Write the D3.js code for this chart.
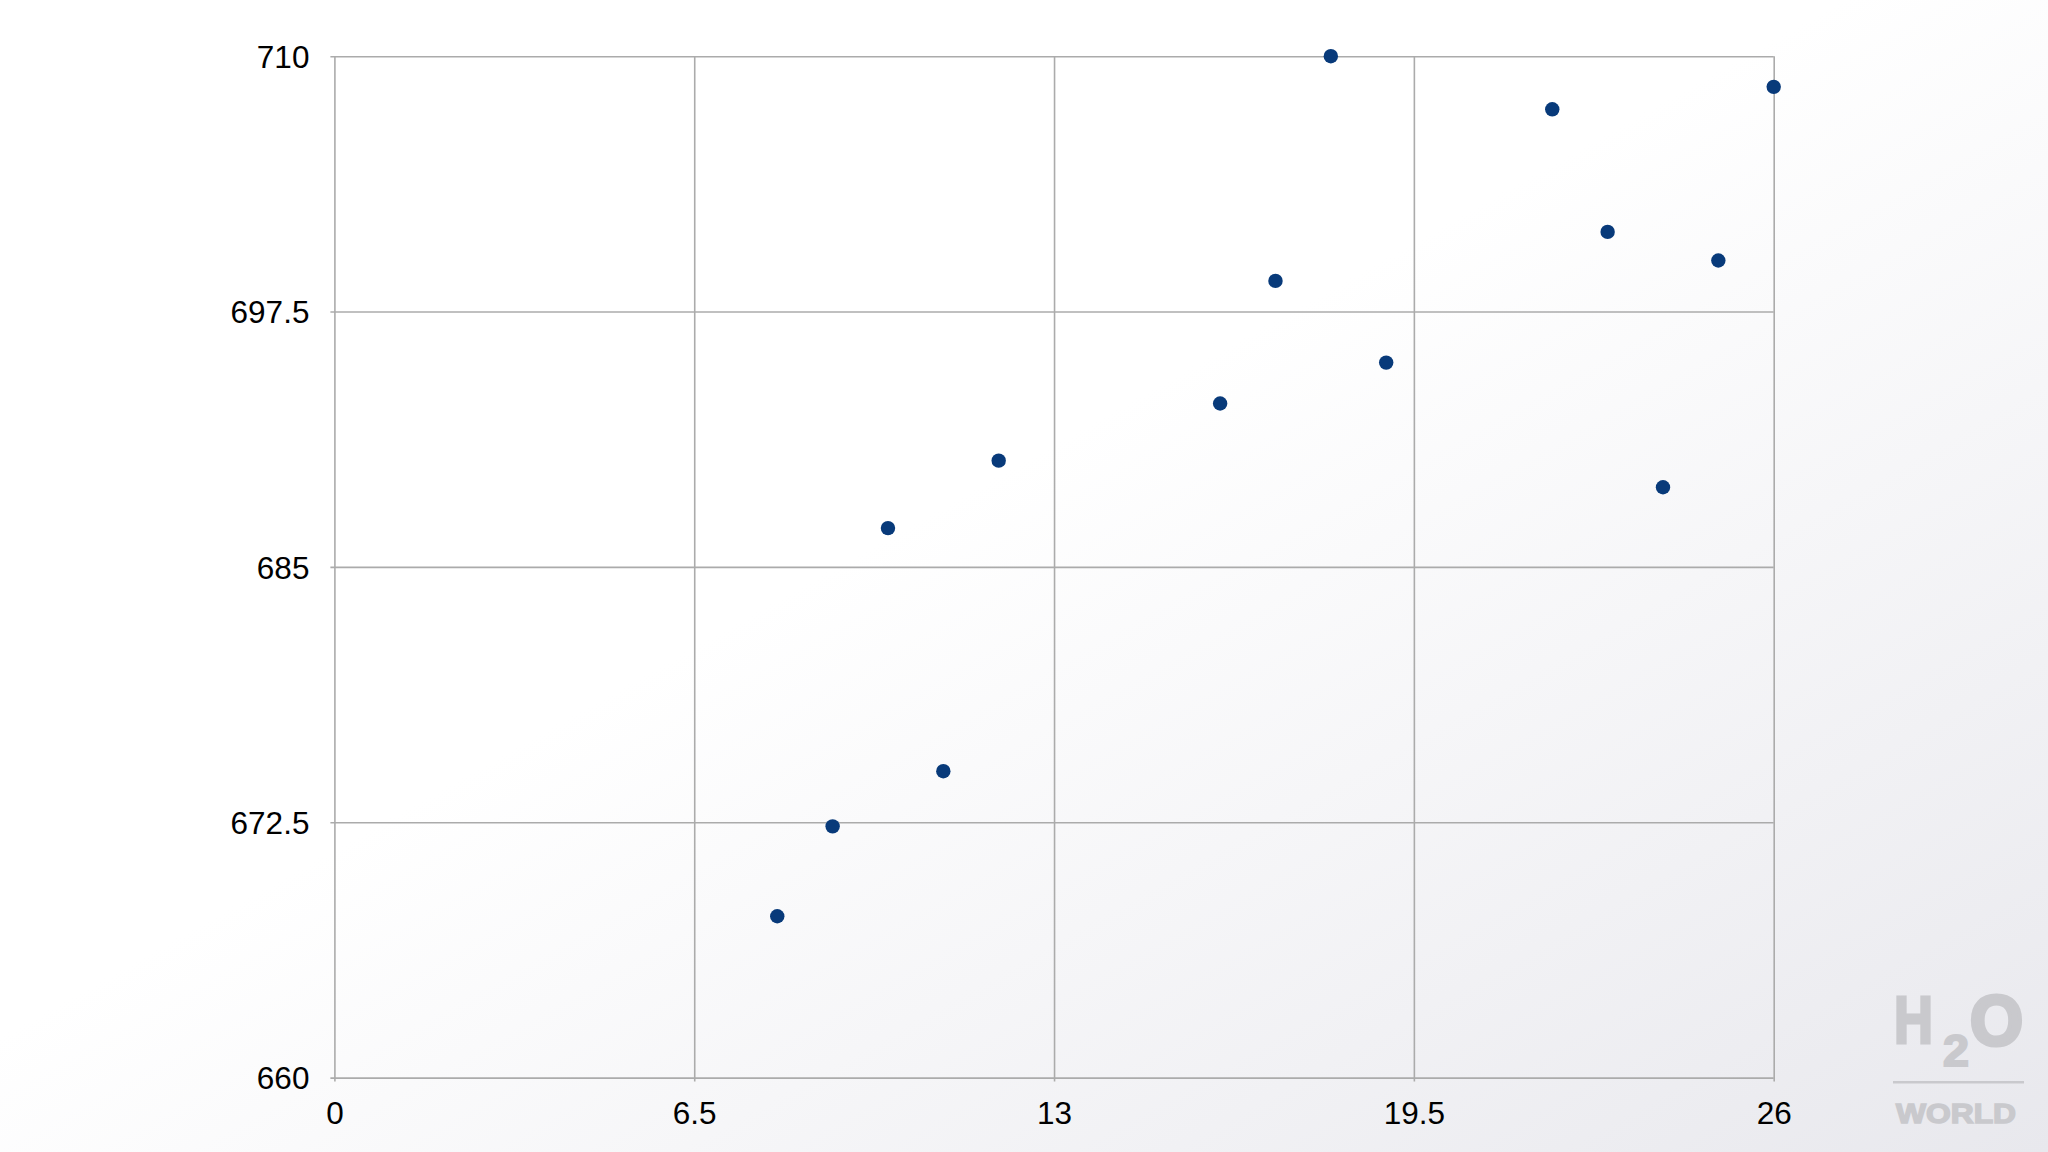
<!DOCTYPE html>
<html>
<head>
<meta charset="utf-8">
<script src="https://cdn.jsdelivr.net/npm/d3@7"></script>
<style>
  html, body { margin: 0; padding: 0; width: 2048px; height: 1152px; overflow: hidden; }
  svg { display: block; }
</style>
</head>
<body>
<svg id="chart" width="2048" height="1152"></svg>
<script>
// Data
const xValues = [8, 9, 10, 11, 12, 16, 17, 18, 19, 22, 23, 24, 25, 26];
const yValues = [667.9, 672.3, 686.9, 675.0, 690.2, 693.0, 699.0, 710.0, 695.0, 707.4, 701.4, 688.9, 700.0, 708.5];
const xTicks = [0, 6.5, 13, 19.5, 26];
const yTicks = [660, 672.5, 685, 697.5, 710];
const xTickLabels = ["0", "6.5", "13", "19.5", "26"];
const yTickLabels = ["660", "672.5", "685", "697.5", "710"];

const W = 2048, H = 1152;
const margin = { left: 334.4, right: 2048 - 1773.7, top: 56.2, bottom: 1152 - 1077.6 };

const svg = d3.select("#chart");
const defs = svg.append("defs");
const grad = defs.append("linearGradient").attr("id", "bg")
  .attr("x1", "0").attr("y1", "0").attr("x2", "1").attr("y2", "1");
grad.append("stop").attr("offset", "0.45").attr("stop-color", "#ffffff");
grad.append("stop").attr("offset", "1").attr("stop-color", "#e8e8ed");
svg.append("rect").attr("width", W).attr("height", H).attr("fill", "url(#bg)");

const x = d3.scaleLinear().domain([0, 26]).range([margin.left, W - margin.right]);
const y = d3.scaleLinear().domain([660, 710]).range([H - margin.bottom, margin.top]);

const font = "'Liberation Sans', Arial, Helvetica, sans-serif";

// Y axis with gridlines
const yAxis = d3.axisLeft(y).tickValues(yTicks)
  .tickFormat((d, i) => yTickLabels[i])
  .tickSize(-(x.range()[1] - x.range()[0]))
  .tickPadding(25);
const gy = svg.append("g").attr("transform", `translate(${margin.left},0)`).call(yAxis);
gy.select(".domain").remove();
gy.selectAll(".tick line").attr("stroke", "#ababab").attr("stroke-width", 1.6)
  .attr("x1", -4);
gy.selectAll(".tick text").attr("font-family", font).attr("font-size", 31.5)
  .attr("fill", "#000").attr("dy", "0.36em");

// X axis with gridlines
const xAxis = d3.axisBottom(x).tickValues(xTicks)
  .tickFormat((d, i) => xTickLabels[i])
  .tickSize(-(y.range()[0] - y.range()[1]))
  .tickPadding(24);
const gx = svg.append("g").attr("transform", `translate(0,${H - margin.bottom})`).call(xAxis);
gx.select(".domain").remove();
gx.selectAll(".tick line").attr("stroke", "#ababab").attr("stroke-width", 1.6)
  .attr("y1", 4);
gx.selectAll(".tick text").attr("font-family", font).attr("font-size", 31.5)
  .attr("fill", "#000");

// Points
const pts = xValues.map((v, i) => ({ x: v, y: yValues[i] }));
svg.append("g").selectAll("circle").data(pts).join("circle")
  .attr("cx", d => x(d.x)).attr("cy", d => y(d.y)).attr("r", 7.2)
  .attr("fill", "#083a7a");

// Watermark logo
const logoColor = "#c9c9cd";
const logo = svg.append("g").attr("fill", logoColor).attr("stroke", logoColor)
  .attr("font-family", "'Liberation Sans', Arial, sans-serif").attr("font-weight", "bold");
logo.append("text").attr("x", 1894).attr("y", 1043).attr("font-size", 66)
  .attr("stroke-width", 3).attr("textLength", 39).attr("lengthAdjust", "spacingAndGlyphs").text("H");
logo.append("text").attr("x", 1943).attr("y", 1066).attr("font-size", 44)
  .attr("stroke-width", 2).attr("textLength", 26).attr("lengthAdjust", "spacingAndGlyphs").text("2");
logo.append("text").attr("x", 1970).attr("y", 1045).attr("font-size", 71)
  .attr("stroke-width", 4).attr("textLength", 53).attr("lengthAdjust", "spacingAndGlyphs").text("O");
logo.append("rect").attr("x", 1893).attr("y", 1081).attr("width", 131).attr("height", 2.5).attr("stroke", "none");
logo.append("text").attr("x", 1896).attr("y", 1122.5).attr("font-size", 28)
  .attr("stroke-width", 1.5).attr("textLength", 120).attr("lengthAdjust", "spacingAndGlyphs").text("WORLD");
</script>
</body>
</html>
